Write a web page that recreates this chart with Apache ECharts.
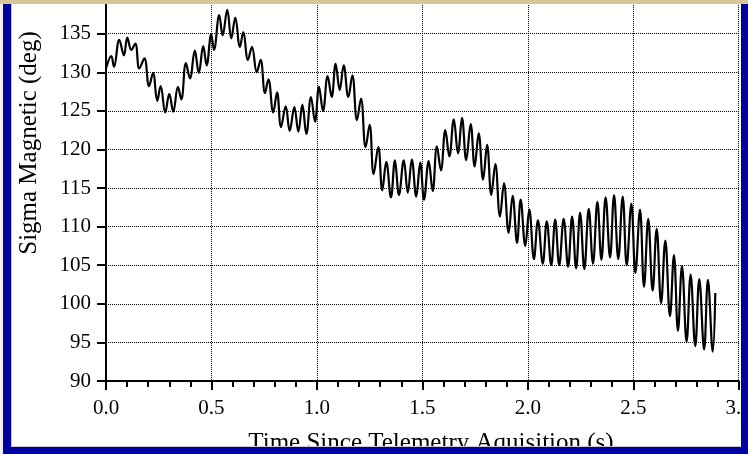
<!DOCTYPE html>
<html>
<head>
<meta charset="utf-8">
<script src="https://cdn.jsdelivr.net/npm/echarts@6/dist/echarts.min.js"></script>
<style>
html, body { margin: 0; padding: 0; background: #fff; }
#chart { width: 748px; height: 454px; }
</style>
</head>
<body>
<div id="chart"></div>
<script>
// peaks and troughs
var times = [
	0.000, 0.025, 0.038, 0.063, 0.085, 0.101, 0.120, 0.139, 0.158, 0.182,
	0.204, 0.223, 0.243, 0.259, 0.281, 0.300, 0.319, 0.341, 0.357, 0.379,
	0.398, 0.421, 0.440, 0.461, 0.477, 0.499, 0.512, 0.537, 0.553, 0.575,
	0.594, 0.613, 0.635, 0.651, 0.673, 0.692, 0.715, 0.733, 0.754, 0.770,
	0.793, 0.811, 0.830, 0.852, 0.871, 0.893, 0.912, 0.931, 0.950, 0.972,
	0.991, 1.010, 1.029, 1.051, 1.070, 1.089, 1.108, 1.127, 1.149, 1.168,
	1.190, 1.209, 1.231, 1.250, 1.269, 1.291, 1.310, 1.329, 1.351, 1.370,
	1.389, 1.412, 1.431, 1.450, 1.471, 1.490, 1.508, 1.530, 1.549, 1.569,
	1.588, 1.609, 1.628, 1.649, 1.669, 1.688, 1.708, 1.729, 1.748, 1.767,
	1.788, 1.807, 1.827, 1.846, 1.868, 1.887, 1.909, 1.928, 1.949, 1.966,
	1.988, 2.007, 2.029, 2.048, 2.071, 2.090, 2.111, 2.130, 2.149, 2.170,
	2.191, 2.210, 2.229, 2.248, 2.268, 2.289, 2.309, 2.330, 2.349, 2.369,
	2.390, 2.409, 2.429, 2.450, 2.469, 2.491, 2.510, 2.532, 2.551, 2.571,
	2.592, 2.611, 2.632, 2.652, 2.674, 2.693, 2.712, 2.731, 2.753, 2.772,
	2.794, 2.813, 2.836, 2.854, 2.877, 2.889
];
var sigma = [
	130.5, 132.1, 130.7, 134.2, 132.2, 134.5, 132.9, 133.7, 130.5, 131.8,
	128.2, 129.9, 126.3, 128.2, 124.8, 127.2, 124.9, 128.1, 126.5, 131.2,
	129.2, 132.8, 129.9, 133.4, 130.9, 134.9, 132.9, 137.4, 134.8, 138.1,
	134.4, 137.1, 133.3, 135.2, 131.6, 133.3, 130.0, 131.6, 127.3, 129.1,
	124.8, 127.4, 122.9, 125.6, 122.4, 125.5, 122.3, 125.8, 122.0, 126.8,
	123.6, 128.1, 125.0, 129.5, 126.8, 131.1, 127.7, 130.9, 126.8, 129.6,
	123.8, 126.6, 120.3, 123.2, 116.8, 120.3, 114.7, 118.4, 113.8, 118.6,
	114.1, 118.6, 114.4, 118.7, 113.9, 118.3, 113.5, 118.5, 114.6, 120.4,
	117.3, 122.5, 119.1, 123.9, 119.5, 124.1, 118.6, 123.3, 117.8, 122.1,
	116.1, 120.6, 114.1, 118.1, 111.3, 115.6, 109.2, 114.0, 107.9, 113.5,
	107.5, 112.2, 105.8, 110.8, 105.2, 110.7, 105.0, 110.9, 105.0, 111.0,
	104.8, 111.3, 104.6, 111.8, 104.5, 112.3, 105.2, 113.2, 105.7, 113.8,
	106.0, 114.1, 105.8, 113.9, 105.0, 113.0, 104.0, 112.2, 102.2, 111.0,
	101.7, 109.7, 100.1, 108.2, 98.4, 106.3, 96.5, 104.9, 95.1, 103.8,
	94.5, 103.2, 94.1, 103.1, 93.8, 101.4
];
var xTitle = "Time Since Telemetry Aquisition (s)";
var yTitle = "Sigma Magnetic (deg)";

var serif = '"Liberation Serif", "Times New Roman", serif';
var frameBlue = "#0000a0";

var points = [];
for (var i = 0; i < times.length; i++) {
	points.push([times[i], sigma[i]]);
}

var chart = echarts.init(document.getElementById("chart"), null, {renderer: "canvas"});
chart.setOption({
	animation: false,
	backgroundColor: "#fff",
	grid: {left: 106, right: 9.3, top: -4.9, bottom: 73, outerBoundsMode: "none", containLabel: false},
	xAxis: {
		type: "value",
		min: 0, max: 3, interval: 0.5,
		axisLine: {lineStyle: {color: "#000", width: 2}},
		axisTick: {length: 9, lineStyle: {color: "#000", width: 2}},
		minorTick: {show: true, splitNumber: 5, length: 6, lineStyle: {color: "#000", width: 2}},
		axisLabel: {
			margin: 17, color: "#000", fontSize: 21, fontFamily: serif,
			formatter: function(v){ return v.toFixed(1); }
		},
		splitLine: {show: true, lineStyle: {color: "#000", type: "dotted", width: 1}}
	},
	yAxis: {
		type: "value",
		min: 90, max: 140, interval: 5,
		axisLine: {show: true, lineStyle: {color: "#000", width: 2}},
		axisTick: {show: true, length: 9, lineStyle: {color: "#000", width: 2}},
		axisLabel: {margin: 15, color: "#000", fontSize: 21, fontFamily: serif, showMaxLabel: false},
		splitLine: {show: true, lineStyle: {color: "#000", type: "dotted", width: 1}}
	},
	series: [{
		type: "line",
		data: points,
		showSymbol: false,
		smooth: 0.4,
		lineStyle: {color: "#000", width: 2.2},
		z: 5
	}],
	graphic: [
		{type: "text", x: 29, y: 143, rotation: Math.PI / 2, z: 50,
			style: {text: yTitle, font: "25px " + serif, fill: "#000", align: "center", verticalAlign: "middle", textAlign: "center", textVerticalAlign: "middle"}},
		{type: "text", x: 431, y: 443, z: 50,
			style: {text: xTitle, font: "25px " + serif, fill: "#000", align: "center", verticalAlign: "middle", textAlign: "center", textVerticalAlign: "middle"}},
		// frame round the plot
		{type: "rect", z: 100, shape: {x: 0, y: 0, width: 748, height: 4}, style: {fill: "#d8c59c"}},
		{type: "rect", z: 100, shape: {x: 0, y: 4, width: 3, height: 450}, style: {fill: "#eeeeee"}},
		{type: "rect", z: 100, shape: {x: 3, y: 4, width: 8, height: 450}, style: {fill: frameBlue}},
		{type: "rect", z: 100, shape: {x: 741, y: 4, width: 7, height: 450}, style: {fill: frameBlue}},
		{type: "rect", z: 100, shape: {x: 3, y: 447, width: 745, height: 7}, style: {fill: frameBlue}},
		{type: "rect", z: 100, shape: {x: 11, y: 446, width: 730, height: 1}, style: {fill: "#c8c8d8"}},
		{type: "rect", z: 100, shape: {x: 11, y: 4, width: 1, height: 442}, style: {fill: "#c8c8d8"}}
	]
});
</script>
</body>
</html>
